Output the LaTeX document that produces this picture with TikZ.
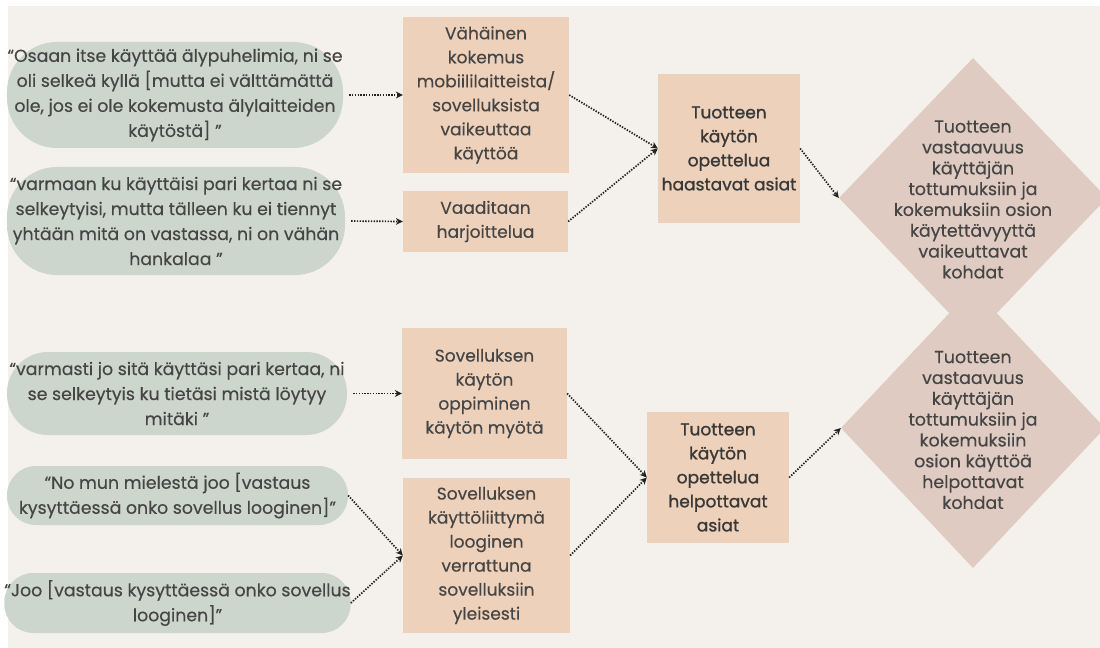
\documentclass[tikz,border=0pt]{standalone}
\usepackage{fontspec}
\setmainfont{Poppins}
\newfontfamily\bodyfont{Poppins}[FakeBold=0.3]
\newfontfamily\headfont{Poppins}[FakeBold=1.1]
\usetikzlibrary{shapes.geometric,arrows.meta}
\definecolor{paper}{HTML}{F4F0EB}
\definecolor{sage}{HTML}{CDD6CC}
\definecolor{peach}{HTML}{EDD1BA}
\definecolor{rose}{HTML}{DFCBC1}
\definecolor{ink}{HTML}{454545}
\definecolor{inkdark}{HTML}{383838}
\definecolor{arrowc}{HTML}{222222}
\begin{document}
\begin{tikzpicture}[x=1bp,y=-1bp,
  quote/.style={fill=sage, draw=none, inner sep=0pt, align=center, text=ink,
    font=\bodyfont\fontsize{17.4}{25.1}\selectfont},
  themebox/.style={fill=peach, draw=none, inner sep=0pt, align=center, text=ink,
    font=\bodyfont\fontsize{17.1}{24.1}\selectfont},
  sumbox/.style={fill=peach, draw=none, inner sep=0pt, align=center, text=inkdark,
    font=\headfont\fontsize{17.1}{24.1}\selectfont},
  dia/.style={diamond, fill=rose, draw=none, inner sep=0pt},
  diatext/.style={align=center, text=ink, inner sep=0pt,
    font=\bodyfont\fontsize{17.5}{20.9}\selectfont},
  link/.style={draw=arrowc, line width=1.7bp, dash pattern=on 1.4bp off 1.4bp,
    -{Stealth[length=7bp,width=7bp,line width=0pt]}},
]
\useasboundingbox (0,0) rectangle (1100,648);
\fill[white] (-5,-5) rectangle (1110,660);
\fill[paper] (8,6) rectangle (1110,660);

% interview quotes
\node[quote, rounded corners=50bp, minimum width=336bp, minimum height=106bp] (q1) at (175,95)
  {“Osaan itse käyttää älypuhelimia, ni se\\oli selkeä kyllä [mutta ei välttämättä\\ole, jos ei ole kokemusta älylaitteiden\\käytöstä] ”};
\node[quote, rounded corners=50bp, minimum width=338bp, minimum height=108bp] (q2) at (176,221)
  {“varmaan ku käyttäisi pari kertaa ni se\\selkeytyisi, mutta tälleen ku ei tiennyt\\yhtään mitä on vastassa, ni on vähän\\hankalaa ”};
\node[quote, rounded corners=41bp, minimum width=340bp, minimum height=83bp] (q3) at (177,393.5)
  {“varmasti jo sitä käyttäsi pari kertaa, ni\\se selkeytyis ku tietäsi mistä löytyy\\mitäki ”};
\node[quote, rounded corners=29bp, minimum width=341bp, minimum height=59bp] (q4) at (177.5,495.5)
  {“No mun mielestä joo [vastaus\\kysyttäessä onko sovellus looginen]”};
\node[quote, rounded corners=29bp, minimum width=341bp, minimum height=60bp] (q5) at (177.5,603)
  {“Joo [vastaus kysyttäessä onko sovellus\\looginen]”};

% first-level themes
\node[themebox, minimum width=166bp, minimum height=156bp] (a) at (486,95)
  {Vähäinen\\kokemus\\mobiililaitteista/\\sovelluksista\\vaikeuttaa\\käyttöä};
\node[themebox, minimum width=165bp, minimum height=61bp] (b) at (485.5,221.5)
  {Vaaditaan\\harjoittelua};
\node[themebox, minimum width=165bp, minimum height=131bp] (d) at (484.5,393.5)
  {Sovelluksen\\käytön\\oppiminen\\käytön myötä};
\node[themebox, minimum width=167bp, minimum height=155bp] (e) at (486.5,555.5)
  {Sovelluksen\\käyttöliittymä\\looginen\\verrattuna\\sovelluksiin\\yleisesti};

% second-level themes
\node[sumbox, minimum width=142bp, minimum height=149bp] (c) at (729,148.5)
  {Tuotteen\\käytön\\opettelua\\haastavat asiat};
\node[sumbox, minimum width=142bp, minimum height=131bp] (f) at (718,477.5)
  {Tuotteen\\käytön\\opettelua\\helpottavat\\asiat};

% main categories
\node[dia, minimum width=264bp, minimum height=280bp] (d2) at (973,428) {};
\node[dia, minimum width=268bp, minimum height=280bp] (d1) at (973,198) {};
\node[diatext] (d1t) at (973,199.5)
  {Tuotteen\\vastaavuus\\käyttäjän\\tottumuksiin ja\\kokemuksiin osion\\käytettävyyttä\\vaikeuttavat\\kohdat};
\node[diatext] (d2t) at (973,430)
  {Tuotteen\\vastaavuus\\käyttäjän\\tottumuksiin ja\\kokemuksiin\\osion käyttöä\\helpottavat\\kohdat};

% connectors
\draw[link, shorten <=6bp] (q1.east) -- (a.west);
\draw[link, shorten <=6bp] (q2.east) -- (b.west);
\draw[link] (a.east) -- (c.west);
\draw[link] (b.east) -- (c.west);
\draw[link] (c.east) -- (d1.west);
\draw[link, shorten <=6bp] (q3.east) -- (d.west);
\draw[link] (q4.east) -- (e.west);
\draw[link] (q5.east) -- (e.west);
\draw[link] (d.east) -- (f.west);
\draw[link] (e.east) -- (f.west);
\draw[link] (f.east) -- (d2.west);
\end{tikzpicture}
\end{document}
